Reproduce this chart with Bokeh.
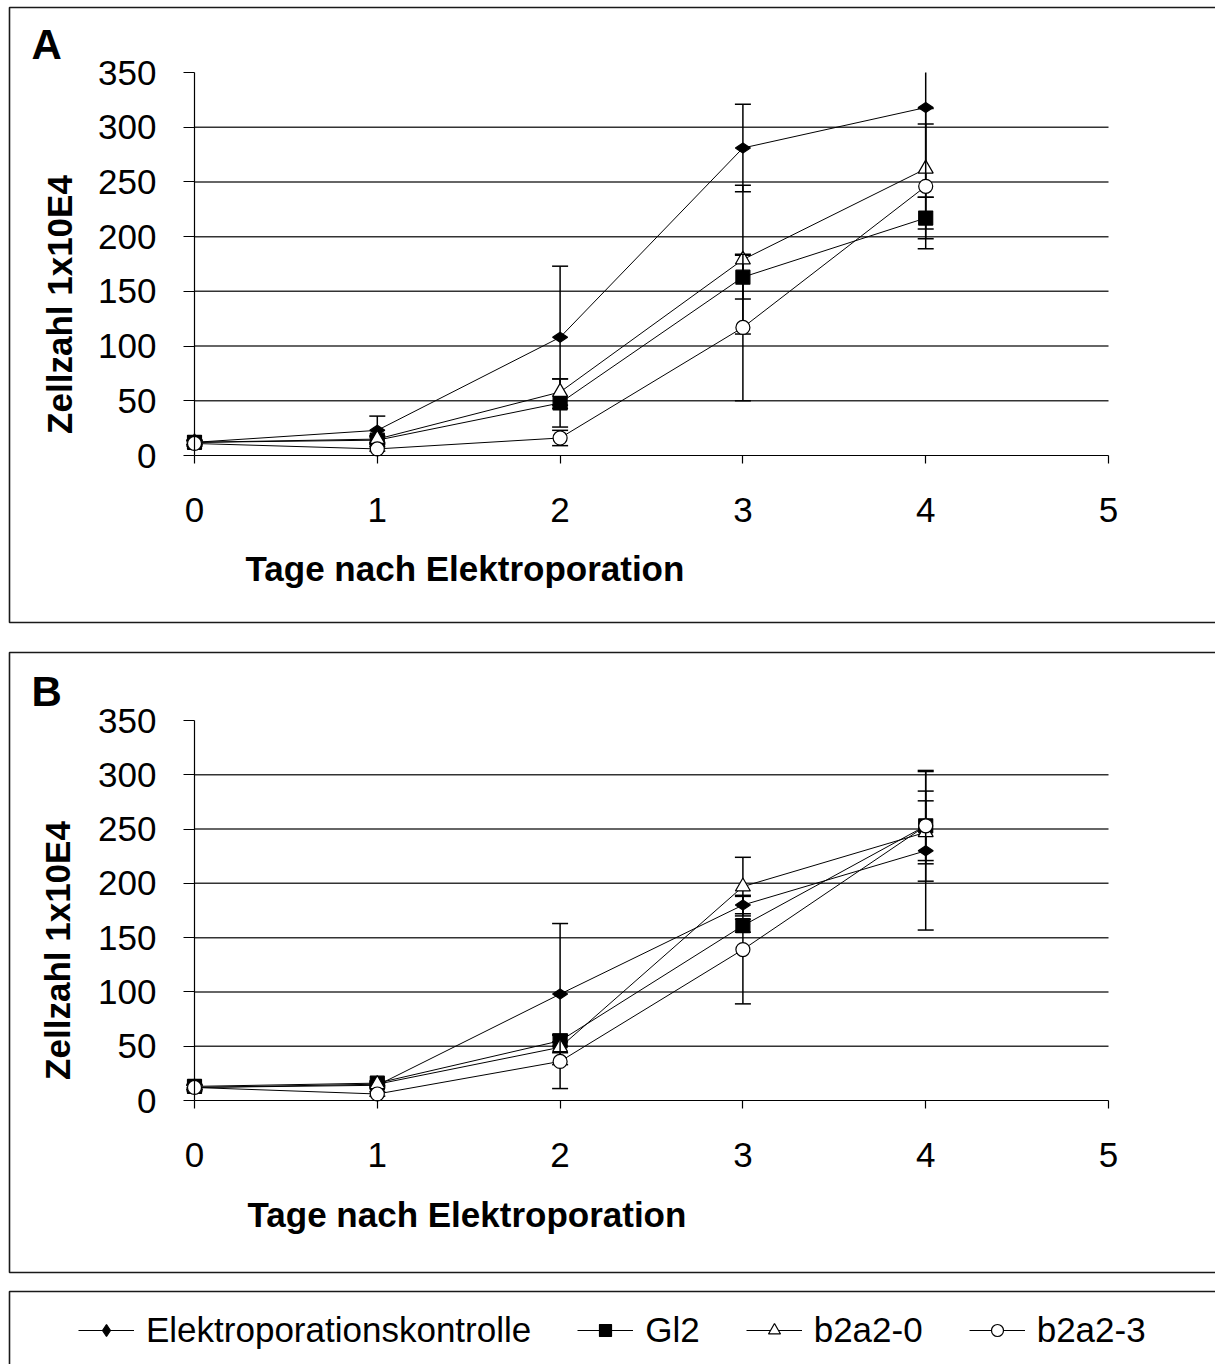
import math
from bokeh.plotting import figure
from bokeh.models import (Range1d, FixedTicker, Label, Legend, LegendItem, LinearAxis)
from bokeh.layouts import column
from bokeh.embed import file_html
from bokeh.resources import INLINE

# ---------------- data ----------------
days = [0, 1, 2, 3, 4]
x_ticks = [0, 1, 2, 3, 4, 5]
y_ticks = [0, 50, 100, 150, 200, 250, 300, 350]
series_names = ["Elektroporationskontrolle", "Gl2", "b2a2-0", "b2a2-3"]
x_title = "Tage nach Elektroporation"
y_title = "Zellzahl 1x10E4"

# Panel A
a_kontrolle = [12, 23, 108, 281, 318]
a_kontrolle_sd = [2, 13, 65, 40, 82]
a_gl2 = [12, 14, 48, 163, 217]
a_gl2_sd = [2, 3, 22, 20, 19]
a_b2a2_0 = [12, 15, 58, 179, 262]
a_b2a2_0_sd = [2, 3, 12, 68, 55]
a_b2a2_3 = [11, 6, 16, 117, 246]
a_b2a2_3_sd = [2, 2, 7, 67, 57]

# Panel B
b_kontrolle = [12, 14, 98, 180, 230]
b_kontrolle_sd = [2, 2, 65, 8, 73]
b_gl2 = [13, 16, 55, 161, 253]
b_gl2_sd = [2, 2, 5, 6, 32]
b_b2a2_0 = [12, 15, 49, 197, 247]
b_b2a2_0_sd = [2, 2, 5, 27, 29]
b_b2a2_3 = [12, 6, 36, 139, 253]
b_b2a2_3_sd = [2, 2, 25, 50, 51]

FONT = "Liberation Sans"
styles = [
    dict(marker="diamond", size=15, angle=math.pi / 2, fill="black"),
    dict(marker="square", size=14, angle=0, fill="black"),
    dict(marker="triangle", size=15, angle=0, fill="white"),
    dict(marker="circle", size=14, angle=0, fill="white"),
]

W = 1215
PLOT_L, PLOT_R = 194, 1108   # page x of day 0 and day 5
BOX_COLOR = "#1a1a1a"


def make_panel(page_top, height, zero_py, top_py, letter, series, sds, box_top, box_bottom,
               letter_pos, ytitle_pos, xtitle_pos):
    sx = (PLOT_R - PLOT_L) / 5.0
    sy = (zero_py - top_py) / 350.0

    def dx(px):
        return (px - PLOT_L) / sx

    def dy(py):
        return (zero_py - py) / sy

    p = figure(width=W, height=height,
               x_range=Range1d(dx(0), dx(W)), y_range=Range1d(dy(page_top + height), dy(page_top)),
               x_axis_type=None, y_axis_type=None, min_border=0,
               output_backend="svg", toolbar_location=None)
    p.background_fill_color = "white"
    p.border_fill_color = "white"
    p.outline_line_color = None

    # panel box (right edge lies outside the picture)
    if box_bottom is not None:
        bx = [dx(W + 20), dx(9), dx(9), dx(W + 20)]
        by = [dy(box_top), dy(box_top), dy(box_bottom), dy(box_bottom)]
        p.line(bx, by, line_color=BOX_COLOR, line_width=1.6)

    # horizontal gridlines (between first and last tick)
    grid_vals = y_ticks[1:-1]
    p.segment(x0=[x_ticks[0]] * len(grid_vals), y0=grid_vals,
              x1=[x_ticks[-1]] * len(grid_vals), y1=grid_vals,
              line_color="#333333", line_width=1.5)

    xa = LinearAxis(fixed_location=0, bounds=(x_ticks[0], x_ticks[-1]),
                    ticker=FixedTicker(ticks=x_ticks))
    ya = LinearAxis(fixed_location=0, bounds=(y_ticks[0], y_ticks[-1]),
                    ticker=FixedTicker(ticks=y_ticks))
    for ax, tick_out, standoff in ((xa, 8, 34), (ya, 11, 27)):
        ax.major_tick_in = 0
        ax.major_tick_out = tick_out
        ax.minor_tick_line_color = None
        ax.axis_line_color = "black"
        ax.axis_line_width = 1.2
        ax.major_tick_line_color = "black"
        ax.major_tick_line_width = 1.2
        ax.major_label_text_font = FONT
        ax.major_label_text_font_size = "35px"
        ax.major_label_text_color = "black"
        ax.major_label_standoff = standoff
    p.add_layout(xa, "below")
    p.add_layout(ya, "left")

    top_val = y_ticks[-1]
    renderers = []
    for vals, sd, st in zip(series, sds, styles):
        lo = [v - s for v, s in zip(vals, sd)]
        hi = [v + s for v, s in zip(vals, sd)]
        hi_draw = [min(h, top_val) for h in hi]          # clipped at the plot area top
        cap_x = days + [d for d, h in zip(days, hi) if h <= top_val]
        cap_y = lo + [h for h in hi if h <= top_val]
        p.segment(x0=days, y0=lo, x1=days, y1=hi_draw, line_color="black", line_width=1.5)
        p.scatter(x=cap_x, y=cap_y, marker="dash", size=16,
                  line_color="black", line_width=1.5)
        lr = p.line(days, vals, line_color="black", line_width=1)
        mr = p.scatter(days, vals, marker=st["marker"], size=st["size"], angle=st["angle"],
                       fill_color=st["fill"], line_color="black", line_width=1.2)
        renderers.append((lr, mr))

    p.add_layout(Label(x=dx(letter_pos[0]), y=dy(letter_pos[1]), text=letter,
                       text_font=FONT, text_font_style="bold", text_font_size="42px",
                       text_baseline="middle", text_align="left", text_color="black"))
    p.add_layout(Label(x=dx(ytitle_pos[0]), y=dy(ytitle_pos[1]), text=y_title,
                       angle=math.pi / 2, text_font=FONT, text_font_style="bold",
                       text_font_size="35px", text_align="center", text_baseline="middle",
                       text_color="black"))
    p.add_layout(Label(x=dx(xtitle_pos[0]), y=dy(xtitle_pos[1]), text=x_title,
                       text_font=FONT, text_font_style="bold", text_font_size="35px",
                       text_align="left", text_baseline="middle", text_color="black"))
    return p, renderers, dx, dy


HA = 637
HB = 727

pA, _, _, _ = make_panel(0, HA, 455, 72, "A",
                         [a_kontrolle, a_gl2, a_b2a2_0, a_b2a2_3],
                         [a_kontrolle_sd, a_gl2_sd, a_b2a2_0_sd, a_b2a2_3_sd],
                         7, 622, (31, 44), (59, 304), (245, 568))

pB, rB, dxB, dyB = make_panel(HA, HB, 1100, 720, "B",
                              [b_kontrolle, b_gl2, b_b2a2_0, b_b2a2_3],
                              [b_kontrolle_sd, b_gl2_sd, b_b2a2_0_sd, b_b2a2_3_sd],
                              652, 1272, (31, 691), (57, 950), (247, 1214))

# legend box (top + left edge visible)
pB.line([dxB(W + 20), dxB(9), dxB(9)], [dyB(1291), dyB(1291), dyB(HA + HB + 20)],
        line_color=BOX_COLOR, line_width=1.6)

items = [LegendItem(label=name, renderers=[lr, mr]) for name, (lr, mr) in zip(series_names, rB)]
legend = Legend(items=items, orientation="horizontal", location=(78, HA + HB - 1350),
                border_line_color=None, background_fill_alpha=0, padding=0, margin=0,
                spacing=46, glyph_width=56, glyph_height=30, label_height=30,
                label_standoff=12,
                label_text_font=FONT, label_text_font_size="35px", label_text_color="black")
pB.add_layout(legend, "center")

layout = column(pA, pB, spacing=0)
open("out.html", "w").write(file_html(layout, INLINE))
